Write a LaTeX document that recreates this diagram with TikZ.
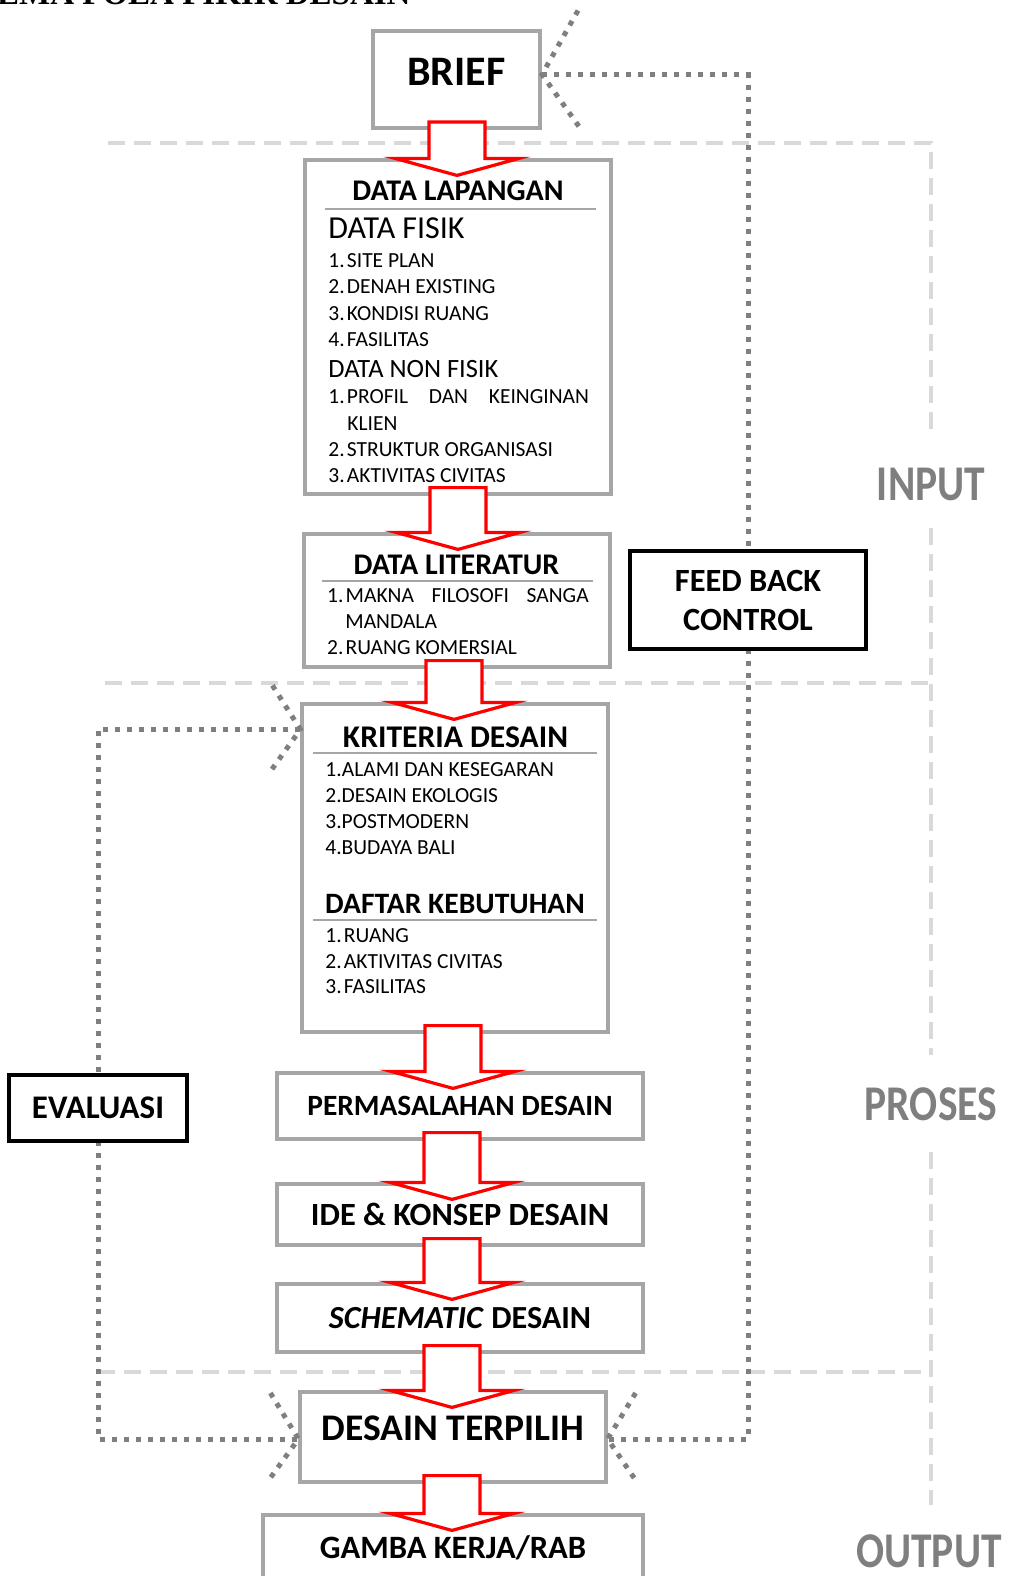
\documentclass[tikz,border=0pt]{standalone}
\usepackage{fontspec}
\setmainfont{Carlito}
\newfontfamily\titlefont{Liberation Serif}
\newfontfamily\zonefont{Carlito}[FakeStretch=0.83]
\usetikzlibrary{calc}

\definecolor{boxgray}{RGB}{166,166,166}
\definecolor{dotgray}{RGB}{127,127,127}
\definecolor{zonegray}{RGB}{217,217,217}

\tikzset{
	flowbox/.style={draw=boxgray, line width=1.6pt, fill=white, inner sep=0pt},
	blackbox/.style={draw=black, line width=1.6pt, fill=white, inner sep=0pt},
	zoneline/.style={zonegray, line width=1.7pt, dash pattern=on 8.5pt off 4.5pt},
	zonelabel/.style={inner sep=0pt, text=dotgray, font=\zonefont\fontsize{25}{30}\bfseries\selectfont},
	fbline/.style={dotgray, line width=2.5pt, dash pattern=on 2.5pt off 3.5pt},
	redarrow/.style={draw=red, line width=1.6pt, fill=white},
	headtxt/.style={inner sep=0pt, font=\fontsize{15}{17}\bfseries\selectfont},
	headrule/.style={boxgray, line width=1pt},
	listitem/.style={anchor=west, inner sep=0pt, font=\fontsize{10.75}{12}\selectfont},
}

\newcommand\numlab[1]{\makebox[9.3pt][l]{#1}}
% hollow block arrow from box #1 into box #2, centred on x=#3
\newcommand\blockarrow[3]{
	\draw[redarrow] let \p1=(#1.south), \p2=(#2.north), \p3=(#3,0) in
		(\x3-14pt,\y1+4pt) -- (\x3+14pt,\y1+4pt) -- (\x3+14pt,\y2) -- (\x3+31pt,\y2)
		-- (\x3,\y2-8.5pt) -- (\x3-31pt,\y2) -- (\x3-14pt,\y2) -- cycle;
}

\begin{document}
\begin{tikzpicture}[x=0.5pt,y=-0.5pt]
	\useasboundingbox (0,0) rectangle (1008,1576);
	
	%title, cut by the page
	\node[anchor=base east, inner sep=0pt, font=\titlefont\fontsize{16.5}{18}\bfseries\selectfont] (title) at (411,4) {SKEMA POLA PIKIR DESAIN};
	
	%zones
	\draw[zoneline] (108,143) -- (931,143) -- (931,438);
	\draw[zoneline] (931,528) -- (931,1055);
	\draw[zoneline] (105,683) -- (931,683);
	\draw[zoneline] (931,1152) -- (931,1505);
	\draw[zoneline] (98,1372) -- (921,1372);
	\node[zonelabel] (input) at (931,484) {INPUT};
	\node[zonelabel] (proses) at (931,1104) {PROSES};
	\node[zonelabel] (output) at (929,1551) {OUTPUT};
	
	%boxes
	\node[flowbox, line width=2pt, minimum width=83.5pt, minimum height=48.5pt, text depth=8pt, font=\fontsize{21}{24}\bfseries\selectfont] (brief) at (456.5,79.5) {BRIEF};
	\node[flowbox, minimum width=153pt, minimum height=167pt] (lap) at (458,327) {};
	\node[flowbox, minimum width=153pt, minimum height=66.5pt] (lit) at (457,600.5) {};
	\node[flowbox, minimum width=153pt, minimum height=164pt] (krit) at (455,868) {};
	\node[flowbox, minimum width=183pt, minimum height=33pt, font=\fontsize{14.7}{17}\bfseries\selectfont] (perm) at (460,1106) {PERMASALAHAN DESAIN};
	\node[flowbox, minimum width=183pt, minimum height=30.5pt, font=\fontsize{16.2}{18}\bfseries\selectfont] (ide) at (460,1214.5) {IDE \& KONSEP DESAIN};
	\node[flowbox, minimum width=183pt, minimum height=34pt, font=\fontsize{16.1}{18}\bfseries\selectfont] (sch) at (460,1318) {\textit{SCHEMATIC} DESAIN};
	\node[flowbox, minimum width=153pt, minimum height=45pt, text depth=9pt, font=\fontsize{18.8}{21}\bfseries\selectfont] (terp) at (453,1437) {DESAIN TERPILIH};
	\node[flowbox, minimum width=190pt, minimum height=33pt, font=\fontsize{16.3}{18}\bfseries\selectfont] (gamba) at (453,1548) {GAMBA KERJA/RAB};
	
	%feed back and evaluasi loops
	\coordinate (fbin) at ([yshift=2.5pt]brief.east);
	\coordinate (terpR) at ([yshift=-1pt]terp.east);
	\coordinate (terpL) at ([yshift=-1pt]terp.west);
	\coordinate (evin) at ([yshift=-13.5pt]krit.north west);
	\draw[fbline] (fbin) -| (748,551);
	\draw[fbline] (748,649) |- (terpR);
	\draw[fbline] (evin) -| (98,1075);
	\draw[fbline] (98,1141) |- (terpL);
	\draw[fbline] (fbin) ++(36,-64) -- (fbin) -- ++(37,52);
	\draw[fbline] (terpR) ++(28,-46) -- (terpR) -- ++(30,44);
	\draw[fbline] (evin) ++(-28,-44) -- (evin) -- ++(-30,42);
	\draw[fbline] (terpL) ++(-28,-46) -- (terpL) -- ++(-31,43);
	\node[blackbox, minimum width=118pt, minimum height=49pt, align=center, font=\fontsize{16.2}{19.5}\bfseries\selectfont] (fb) at (748,600) {FEED BACK\\CONTROL};
	\node[blackbox, minimum width=89pt, minimum height=33pt, font=\fontsize{16.5}{18}\bfseries\selectfont] (ev) at (98,1108) {EVALUASI};
	
	%red arrows
	\foreach \src/\dst/\cx in {brief/lap/457, lap/lit/458, lit/krit/454, krit/perm/453, perm/ide/452, ide/sch/452, sch/terp/452, terp/gamba/452}{
		\blockarrow{\src}{\dst}{\cx}
	}
	
	%data lapangan
	\node[headtxt] (laphead) at (458,190.5) {DATA LAPANGAN};
	\draw[headrule] (325,209) -- (596,209);
	\node[listitem, font=\fontsize{16}{18}\selectfont] (fisik) at (328,228.5) {DATA FISIK};
	\foreach \t [count=\i] in {SITE PLAN, DENAH EXISTING, KONDISI RUANG, FASILITAS}{
		\node[listitem] (fisik\i) at (328,233.5+26.6*\i) {\numlab{\i.}\t};
	}
	\node[listitem, font=\fontsize{13.2}{15}\selectfont] (nonfisik) at (328,368.7) {DATA NON FISIK};
	\node[listitem] (nonfisik1) at (328,397) {\numlab{1.}\makebox[121pt][s]{PROFIL DAN KEINGINAN}};
	\node[listitem] (klien) at (347,423.4) {KLIEN};
	\node[listitem] (nonfisik2) at (328,449.3) {\numlab{2.}STRUKTUR ORGANISASI};
	\node[listitem] (nonfisik3) at (328,475.3) {\numlab{3.}AKTIVITAS CIVITAS};
	
	%data literatur
	\node[headtxt] (lithead) at (456.5,565) {DATA LITERATUR};
	\draw[headrule] (322,581) -- (593,581);
	\node[listitem] (lit1) at (326.7,596) {\numlab{1.}\makebox[121.5pt][s]{MAKNA FILOSOFI SANGA}};
	\node[listitem] (mandala) at (345,621.7) {MANDALA};
	\node[listitem] (lit2) at (326.7,648) {\numlab{2.}RUANG KOMERSIAL};
	
	%kriteria desain
	\node[headtxt, font=\fontsize{15.8}{18}\bfseries\selectfont] (krithead) at (455.5,737) {KRITERIA DESAIN};
	\draw[headrule] (313,753.3) -- (597,753.3);
	\foreach \t [count=\i] in {ALAMI DAN KESEGARAN, DESAIN EKOLOGIS, POSTMODERN, BUDAYA BALI}{
		\node[listitem] (kritpt\i) at (325,743.7+26.1*\i) {\i.\t};
	}
	\node[headtxt, font=\fontsize{14.8}{17}\bfseries\selectfont] (daftarhead) at (455,903.7) {DAFTAR KEBUTUHAN};
	\draw[headrule] (313,920) -- (597,920);
	\foreach \t [count=\i] in {RUANG, AKTIVITAS CIVITAS, FASILITAS}{
		\node[listitem] (daftar\i) at (325,909.6+25.8*\i) {\numlab{\i.}\t};
	}
\end{tikzpicture}
\end{document}
